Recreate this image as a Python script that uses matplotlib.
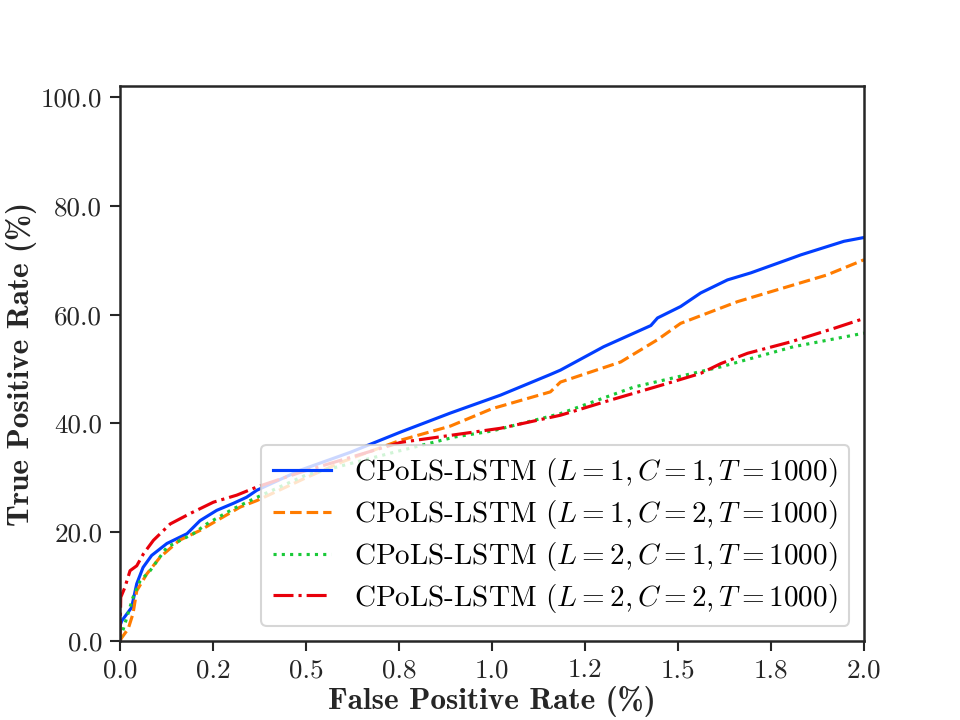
import matplotlib
matplotlib.use("Agg")
import matplotlib.pyplot as plt
from matplotlib.ticker import MultipleLocator, FormatStrFormatter

plt.rcParams['font.family'] = ['cmr10', 'DejaVu Serif']
plt.rcParams['mathtext.fontset'] = 'cm'
plt.rcParams['axes.formatter.use_mathtext'] = True

# FPR (%) / TPR (%)
fpr_a = [0.0, 0.005, 0.031, 0.045, 0.062, 0.085, 0.126, 0.18, 0.215, 0.26, 0.305, 0.34, 0.368,
         0.485, 0.62, 0.754, 0.888, 1.023, 1.157, 1.184, 1.30, 1.427, 1.445, 1.507, 1.561, 1.633,
         1.696, 1.81, 1.83, 1.946, 2.0]
tpr_a = [2.8, 3.7, 6.1, 10.5, 13.5, 15.7, 17.9, 19.7, 22.1, 24.0, 25.3, 26.4, 27.7,
         31.4, 34.7, 38.4, 41.9, 45.2, 49.0, 49.8, 54.1, 58.0, 59.4, 61.5, 64.0, 66.4,
         67.7, 70.5, 71.0, 73.5, 74.2]

fpr_b = [0.0, 0.005, 0.022, 0.035, 0.045, 0.072, 0.108, 0.16, 0.215, 0.26, 0.323, 0.368,
         0.5, 0.6, 0.754, 0.888, 1.0, 1.157, 1.184, 1.346, 1.445, 1.507, 1.66, 1.90, 2.0]
tpr_b = [0.0, 0.6, 2.2, 5.0, 9.2, 12.3, 15.4, 18.5, 20.3, 22.1, 24.6, 25.8,
         30.0, 33.0, 36.9, 39.5, 42.7, 45.8, 47.6, 51.3, 55.4, 58.4, 62.4, 67.3, 70.1]

fpr_c = [0.0, 0.005, 0.035, 0.054, 0.081, 0.126, 0.197, 0.233, 0.305, 0.368, 0.5, 0.754,
         0.9, 1.0, 1.184, 1.382, 1.615, 1.81, 2.0]
tpr_c = [0.5, 1.3, 8.0, 11.0, 12.9, 17.2, 19.7, 21.5, 24.3, 26.4, 30.5, 35.0,
         37.5, 38.6, 41.8, 46.7, 50.4, 54.1, 56.6]

fpr_d = [0.0, 0.002, 0.013, 0.027, 0.045, 0.063, 0.09, 0.135, 0.188, 0.251, 0.314, 0.368,
         0.485, 0.754, 1.023, 1.184, 1.319, 1.454, 1.561, 1.615, 1.687, 1.803, 1.92, 2.0]
tpr_d = [0.0, 8.0, 9.8, 12.9, 13.8, 16.0, 18.5, 21.5, 23.4, 25.5, 26.8, 28.3,
         31.0, 36.5, 39.1, 41.5, 44.3, 47.0, 49.2, 51.0, 52.9, 55.0, 57.5, 59.3]

labels = [r'CPoLS-LSTM ($L=1, C=1, T=1000$)',
          r'CPoLS-LSTM ($L=1, C=2, T=1000$)',
          r'CPoLS-LSTM ($L=2, C=1, T=1000$)',
          r'CPoLS-LSTM ($L=2, C=2, T=1000$)']

fig, ax = plt.subplots(figsize=(6.4, 4.8), dpi=150)

ax.plot(fpr_a, tpr_a, color='#023eff', ls='-', lw=1.5, label=labels[0])
ax.plot(fpr_b, tpr_b, color='#ff7c00', ls='--', lw=1.5, label=labels[1])
ax.plot(fpr_c, tpr_c, color='#1ac938', ls=':', lw=1.5, label=labels[2])
ax.plot(fpr_d, tpr_d, color='#e8000b', ls='-.', lw=1.5, label=labels[3])

ax.set_xlim(0, 2.0)
ax.set_ylim(0, 102)
ax.xaxis.set_major_locator(MultipleLocator(0.25))
ax.yaxis.set_major_locator(MultipleLocator(20))
ax.xaxis.set_major_formatter(FormatStrFormatter('%.1f'))
ax.yaxis.set_major_formatter(FormatStrFormatter('%.1f'))
ax.tick_params(direction='out', length=5, width=1.0, labelsize=13, colors='#262626')
for s in ax.spines.values():
    s.set_color('#262626')
    s.set_linewidth(1.2)

ax.set_xlabel('False Positive Rate (%)', fontsize=15, fontfamily='cmb10', color='#262626', labelpad=2)
ax.set_ylabel('True Positive Rate (%)', fontsize=15, fontfamily='cmb10', color='#262626', labelpad=2)
ax.legend(loc='lower right', fontsize=14, labelspacing=0.3)

fig.savefig('out.png', dpi=150)
